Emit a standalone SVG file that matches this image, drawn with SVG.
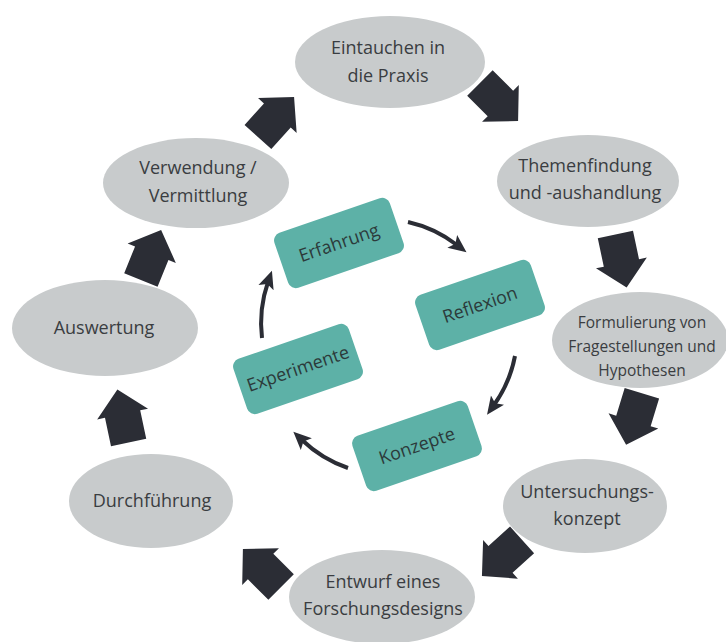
<svg xmlns="http://www.w3.org/2000/svg" xmlns:xlink="http://www.w3.org/1999/xlink" width="726" height="642" viewBox="0 0 726 642">
<style>
.ell{fill:#c8cbcc}
.t{font-family:"Open Sans","Noto Sans",sans-serif;font-size:18px;fill:#3a3d41;text-anchor:middle}
.ts{font-size:15.5px}
.box{fill:#5db1a7}
.bt{font-family:"Open Sans","Noto Sans",sans-serif;font-size:18px;fill:#2c3a3a;text-anchor:middle}
.blk{fill:#2b2d35}
.arc{fill:none;stroke:#2b2d35;stroke-width:4}
</style>
<defs>
<path id="blkshape" d="M0,-27 L26,-2 L18,-2 L18,27 L-18,27 L-18,-2 L-26,-2 Z"/>
<marker id="ah" markerUnits="userSpaceOnUse" markerWidth="20" markerHeight="20" viewBox="0 0 20 20" refX="6" refY="9" orient="auto">
<path d="M0,1 L18,9 L0,17 L4,9 Z" fill="#2b2d35"/>
</marker>
</defs>
<rect width="726" height="642" fill="#ffffff"/>

<g id="n-eintauchen">
<ellipse class="ell" cx="390" cy="62" rx="95" ry="46"/>
<text class="t" x="388" y="54">Eintauchen in</text>
<text class="t" x="388" y="82">die Praxis</text>
</g>
<g id="n-themenfindung">
<ellipse class="ell" cx="588" cy="181" rx="91" ry="46"/>
<text class="t" x="585" y="172">Themenfindung</text>
<text class="t" x="585" y="199">und -aushandlung</text>
</g>
<g id="n-formulierung">
<ellipse class="ell" cx="640" cy="340" rx="88" ry="48"/>
<text class="t ts" x="642" y="328">Formulierung von</text>
<text class="t ts" x="642" y="352">Fragestellungen und</text>
<text class="t ts" x="642" y="376">Hypothesen</text>
</g>
<g id="n-untersuchung">
<ellipse class="ell" cx="585" cy="506" rx="82" ry="47"/>
<text class="t" x="587" y="498">Untersuchungs-</text>
<text class="t" x="587" y="525">konzept</text>
</g>
<g id="n-entwurf">
<ellipse class="ell" cx="382" cy="597" rx="93" ry="47"/>
<text class="t" x="383" y="588">Entwurf eines</text>
<text class="t" x="383" y="615">Forschungsdesigns</text>
</g>
<g id="n-durchfuehrung">
<ellipse class="ell" cx="151" cy="501" rx="82" ry="47"/>
<text class="t" x="152" y="507">Durchführung</text>
</g>
<g id="n-auswertung">
<ellipse class="ell" cx="105" cy="328" rx="93" ry="48"/>
<text class="t" x="104" y="334">Auswertung</text>
</g>
<g id="n-verwendung">
<ellipse class="ell" cx="196" cy="183" rx="93" ry="45"/>
<text class="t" x="198" y="174">Verwendung /</text>
<text class="t" x="198" y="202">Vermittlung</text>
</g>

<g id="n-erfahrung" transform="translate(339,243) rotate(-19)">
<rect class="box" x="-61" y="-29" width="122" height="58" rx="8"/>
<text class="bt" x="0" y="6">Erfahrung</text>
</g>
<g id="n-reflexion" transform="translate(480,305) rotate(-19)">
<rect class="box" x="-61" y="-29" width="122" height="58" rx="8"/>
<text class="bt" x="0" y="6">Reflexion</text>
</g>
<g id="n-konzepte" transform="translate(417,446) rotate(-19)">
<rect class="box" x="-61" y="-29" width="122" height="58" rx="8"/>
<text class="bt" x="0" y="6">Konzepte</text>
</g>
<g id="n-experimente" transform="translate(298,369) rotate(-19)">
<rect class="box" x="-61" y="-29" width="122" height="58" rx="8"/>
<text class="bt" x="0" y="6">Experimente</text>
</g>

<g id="connectors">
<use class="blk" xlink:href="#blkshape" transform="translate(276,117) rotate(42)"/>
<use class="blk" xlink:href="#blkshape" transform="translate(499,102) rotate(135)"/>
<use class="blk" xlink:href="#blkshape" transform="translate(621,261) rotate(168)"/>
<use class="blk" xlink:href="#blkshape" transform="translate(634,419) rotate(197)"/>
<use class="blk" xlink:href="#blkshape" transform="translate(502,558) rotate(228)"/>
<use class="blk" xlink:href="#blkshape" transform="translate(262,568) rotate(315)"/>
<use class="blk" xlink:href="#blkshape" transform="translate(123,416) rotate(-12)"/>
<use class="blk" xlink:href="#blkshape" transform="translate(151,255) rotate(22)"/>
<path class="arc" d="M408 222 A125 125 0 0 1 457 245" marker-end="url(#ah)"/>
<path class="arc" d="M515 356 A125 125 0 0 1 494 405" marker-end="url(#ah)"/>
<path class="arc" d="M348 468 A125 125 0 0 1 302 440" marker-end="url(#ah)"/>
<path class="arc" d="M262 338 A125 125 0 0 1 268 282" marker-end="url(#ah)"/>
</g>
</svg>
